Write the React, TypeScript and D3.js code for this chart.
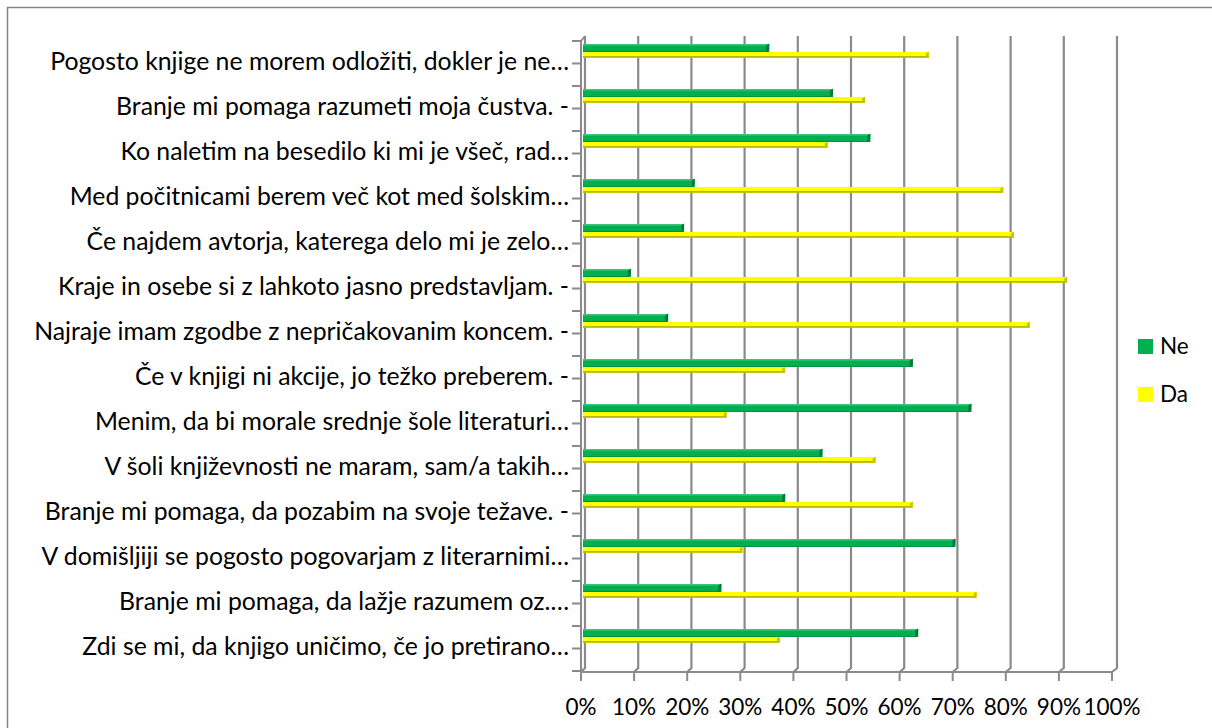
import React from 'react'
import * as d3 from 'd3'

const categories = [
  'Pogosto knjige ne morem odložiti, dokler je ne…',
  'Branje mi pomaga razumeti moja čustva. -',
  'Ko naletim na besedilo ki mi je všeč, rad…',
  'Med počitnicami berem več kot med šolskim…',
  'Če najdem avtorja, katerega delo mi je zelo…',
  'Kraje in osebe si z lahkoto jasno predstavljam. -',
  'Najraje imam zgodbe z nepričakovanim koncem. -',
  'Če v knjigi ni akcije, jo težko preberem. -',
  'Menim, da bi morale srednje šole literaturi…',
  'V šoli književnosti ne maram, sam/a takih…',
  'Branje mi pomaga, da pozabim na svoje težave. -',
  'V domišljiji se pogosto pogovarjam z literarnimi…',
  'Branje mi pomaga, da lažje razumem oz.…',
  'Zdi se mi, da knjigo uničimo, če jo pretirano…',
]

const ne = [35, 47, 54, 21, 19, 9, 16, 62, 73, 45, 38, 70, 26, 63]
const da = [65, 53, 46, 79, 81, 91, 84, 38, 27, 55, 62, 30, 74, 37]

const tickValues = [0, 10, 20, 30, 40, 50, 60, 70, 80, 90, 100]
const legend = [
  { name: 'Ne', color: '#00b050' },
  { name: 'Da', color: '#ffff00' },
]

const FONT = 'Lato, sans-serif'
const GRID = '#8a8a8a'
const DEPTH = 4

export default function App() {
  const top = 41
  const bottom = 671

  // front edge of floor, back wall and the bars sitting between them
  const xFront = d3.scaleLinear().domain([0, 100]).range([581, 1112])
  const xBack = d3.scaleLinear().domain([0, 100]).range([581 + DEPTH, 1112 + DEPTH + 1])
  const xBar = d3.scaleLinear().domain([0, 100]).range([583, 1115])

  const y = d3.scaleBand().domain(categories).range([top, bottom])
  const halfTicks = d3.range(0, categories.length * 2 + 1).map((k) => top + (k * y.bandwidth()) / 2)

  const gridPath = (v: number) =>
    `M${xBack(v)},${top - 5} L${xBack(v)},${bottom - 3} L${xFront(v)},${bottom + 1}`

  return (
    <svg width={1212} height={728} style={{ position: 'absolute', left: 0, top: 0 }}>
      <rect x={7.5} y={7.5} width={1260} height={780} fill="#fff" stroke="#868686" strokeWidth={1.5} />

      {/* back wall grid */}
      {tickValues.map((v) => (
        <path key={v} d={gridPath(v)} fill="none" stroke={GRID} strokeWidth={2.2} />
      ))}

      {/* floor front edge and ticks */}
      <line x1={xFront(0)} x2={xFront(100)} y1={bottom + 1} y2={bottom + 1} stroke={GRID} strokeWidth={2} />
      {tickValues.map((v) => (
        <line key={v} x1={xFront(v)} x2={xFront(v)} y1={bottom + 1} y2={bottom + 10} stroke={GRID} strokeWidth={2} />
      ))}

      {/* left wall */}
      <path
        d={`M${xBack(0)},${top - 5} L${xFront(0)},${top} L${xFront(0)},${bottom + 1}`}
        fill="none"
        stroke={GRID}
        strokeWidth={2}
      />
      {halfTicks.map((t, i) => (
        <line key={i} x1={572} x2={xFront(0)} y1={t} y2={t} stroke={GRID} strokeWidth={2} />
      ))}

      {/* bars */}
      {categories.map((c, i) => {
        const y0 = (y(c) ?? 0) + 3
        const gx = xBar(ne[i])
        const yx = xBar(da[i])
        const x0 = xBar(0)
        return (
          <g key={c}>
            <rect x={x0} y={y0} width={gx - x0} height={8} fill="#00b050" />
            <rect x={x0} y={y0} width={gx - x0} height={1.6} fill="#3cc37a" />
            <rect x={x0} y={y0 + 7} width={gx - x0} height={1} fill="#00913f" />
            <path d={`M${gx - 3},${y0 + 8} L${gx},${y0 + 6} L${gx},${y0 - 0.5} L${gx - 3},${y0 + 1.5} Z`} fill="#007a35" />

            <rect x={x0} y={y0 + 8} width={yx - x0} height={5.5} fill="#ffff00" />
            <rect x={x0} y={y0 + 12} width={yx - x0} height={1.8} fill="#b9b900" />
            <path d={`M${yx - 3},${y0 + 13.5} L${yx},${y0 + 11.5} L${yx},${y0 + 7.5} L${yx - 3},${y0 + 9.5} Z`} fill="#c6c600" />
          </g>
        )
      })}

      {/* category labels */}
      {categories.map((c) => (
        <text
          key={c}
          x={569}
          y={(y(c) ?? 0) + y.bandwidth() / 2 + 6.5}
          textAnchor="end"
          fontFamily={FONT}
          fontSize={24.8}
          fill="#000"
        >
          {c}
        </text>
      ))}

      {/* value axis labels */}
      {tickValues.map((v) => (
        <text
          key={v}
          x={xFront(v)}
          y={715}
          textAnchor="middle"
          fontFamily={FONT}
          fontSize={22.5}
          fill="#000"
        >
          {d3.format('.0%')(v / 100)}
        </text>
      ))}

      {/* legend */}
      {legend.map((l, i) => (
        <g key={l.name} transform={`translate(1138, ${339 + i * 48})`}>
          <rect width={15} height={15} fill={l.color} />
          <text x={22} y={15} fontFamily={FONT} fontSize={22.5} fill="#000">
            {l.name}
          </text>
        </g>
      ))}
    </svg>
  )
}
